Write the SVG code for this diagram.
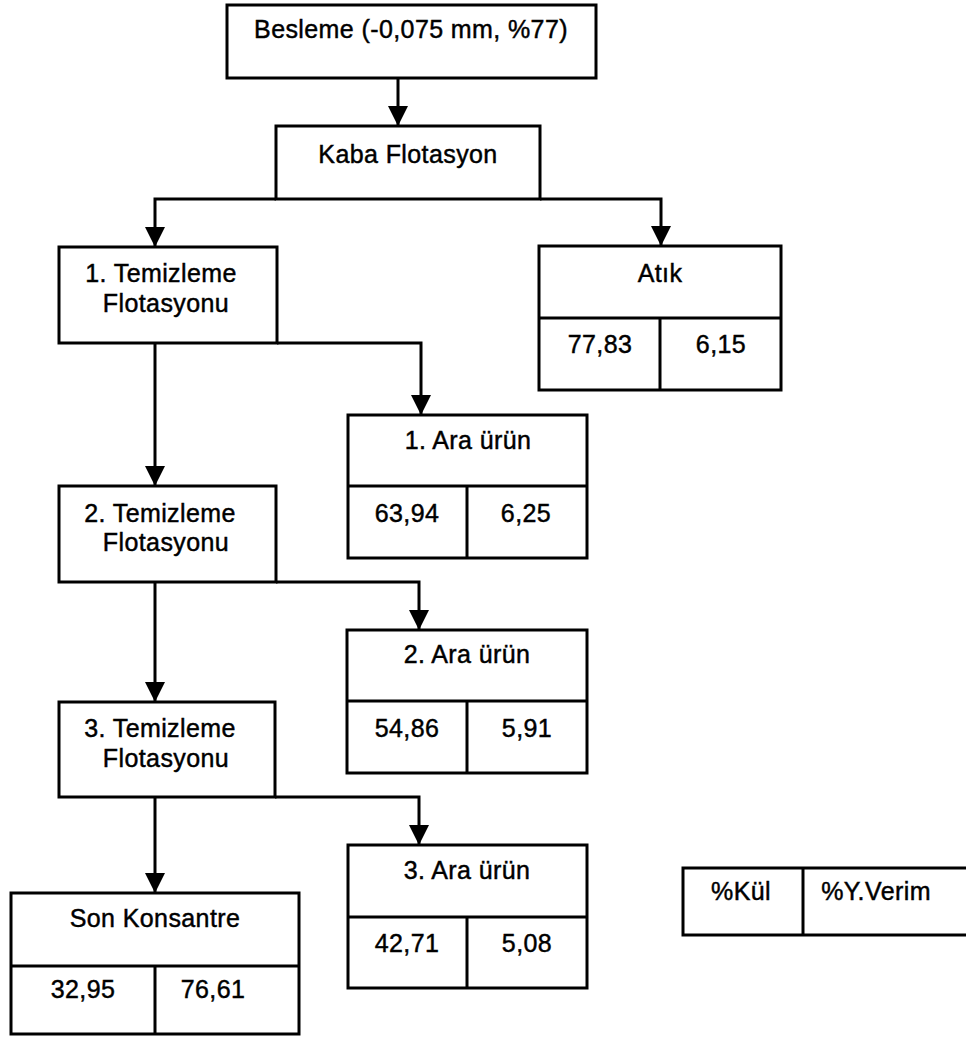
<svg xmlns="http://www.w3.org/2000/svg" width="966" height="1037" viewBox="0 0 966 1037">
<style>
  .box { fill: #ffffff; stroke: #000000; stroke-width: 3; }
  .div { fill: none; stroke: #000000; stroke-width: 3; }
  .conn { fill: none; stroke: #000000; stroke-width: 3; marker-end: url(#arr); }
  .t { font-family: "Liberation Sans", Arial, Helvetica, sans-serif; font-size: 25px; letter-spacing: 0.4px; fill: #000000; stroke: #000000; stroke-width: 0.45; text-anchor: middle; }
</style>
<defs>
  <marker id="arr" markerUnits="userSpaceOnUse" markerWidth="20" markerHeight="20" refX="20" refY="10" orient="auto" viewBox="0 0 20 20">
    <path d="M0,0 L20,10 L0,20 z" fill="#000000"/>
  </marker>
</defs>
<rect width="966" height="1037" fill="#ffffff"/>

<g id="connectors">
  <path class="conn" d="M398,78 V126"/>
  <path class="conn" d="M276,199 H155 V247"/>
  <path class="conn" d="M540,199 H661 V246"/>
  <path class="conn" d="M155,343 V486"/>
  <path class="conn" d="M277,343 H421 V415"/>
  <path class="conn" d="M155,582 V702"/>
  <path class="conn" d="M276,582 H419 V630"/>
  <path class="conn" d="M155,797 V893"/>
  <path class="conn" d="M275,797 H419 V845"/>
</g>

<g id="besleme">
  <rect class="box" x="227" y="5" width="369" height="73"/>
  <text class="t" x="411" y="38">Besleme (-0,075 mm, %77)</text>
</g>

<g id="kaba">
  <rect class="box" x="276" y="126" width="264" height="73"/>
  <text class="t" x="408" y="163">Kaba Flotasyon</text>
</g>

<g id="atik">
  <rect class="box" x="539" y="246" width="242" height="144"/>
  <path class="div" d="M539,318 H781 M660,318 V390"/>
  <text class="t" x="660" y="282">Atık</text>
  <text class="t" x="600" y="353">77,83</text>
  <text class="t" x="721" y="353">6,15</text>
</g>

<g id="temizleme1">
  <rect class="box" x="59" y="247" width="218" height="96"/>
  <text class="t" x="161" y="282">1. Temizleme</text>
  <text class="t" x="166" y="312">Flotasyonu</text>
</g>

<g id="ara1">
  <rect class="box" x="348" y="415" width="239" height="143"/>
  <path class="div" d="M348,486 H587 M467,486 V558"/>
  <text class="t" x="468" y="449">1. Ara ürün</text>
  <text class="t" x="407" y="522">63,94</text>
  <text class="t" x="526" y="522">6,25</text>
</g>

<g id="temizleme2">
  <rect class="box" x="59" y="486" width="217" height="96"/>
  <text class="t" x="160" y="522">2. Temizleme</text>
  <text class="t" x="166" y="551">Flotasyonu</text>
</g>

<g id="ara2">
  <rect class="box" x="347" y="630" width="240" height="143"/>
  <path class="div" d="M347,701 H587 M467,701 V773"/>
  <text class="t" x="467" y="663">2. Ara ürün</text>
  <text class="t" x="407" y="737">54,86</text>
  <text class="t" x="527" y="737">5,91</text>
</g>

<g id="temizleme3">
  <rect class="box" x="59" y="702" width="216" height="95"/>
  <text class="t" x="160" y="737">3. Temizleme</text>
  <text class="t" x="166" y="767">Flotasyonu</text>
</g>

<g id="ara3">
  <rect class="box" x="348" y="845" width="239" height="143"/>
  <path class="div" d="M348,917 H587 M467,917 V988"/>
  <text class="t" x="467" y="879">3. Ara ürün</text>
  <text class="t" x="407" y="952">42,71</text>
  <text class="t" x="527" y="952">5,08</text>
</g>

<g id="son-konsantre">
  <rect class="box" x="11" y="893" width="288" height="141"/>
  <path class="div" d="M11,966 H299 M155,966 V1034"/>
  <text class="t" x="155" y="927">Son Konsantre</text>
  <text class="t" x="83" y="998">32,95</text>
  <text class="t" x="213" y="998">76,61</text>
</g>

<g id="legend">
  <rect class="box" x="683" y="868" width="290" height="67"/>
  <path class="div" d="M803,868 V935"/>
  <text class="t" x="741" y="900">%Kül</text>
  <text class="t" x="876" y="900">%Y.Verim</text>
</g>
</svg>
